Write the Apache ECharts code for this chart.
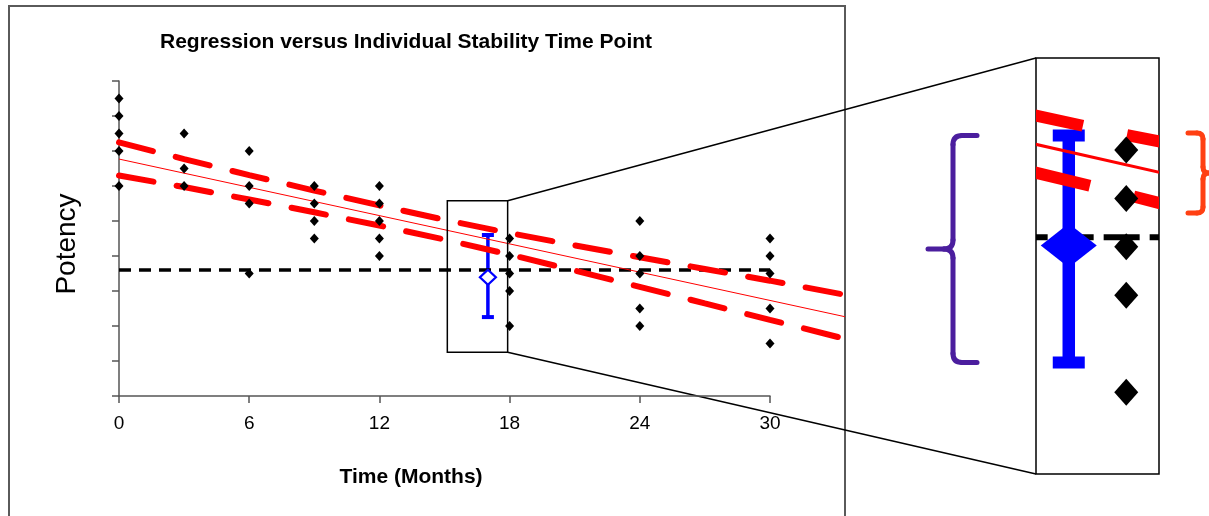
<!DOCTYPE html>
<html>
<head>
<meta charset="utf-8">
<script src="https://cdn.jsdelivr.net/npm/echarts@6/dist/echarts.min.js"></script>
<style>
  html, body { margin: 0; padding: 0; background: #fff; }
  #chart { width: 1209px; height: 516px; }
</style>
</head>
<body>
<div id="chart"></div>
<script>
// stability samples: month + potency, one entry per measurement
const sampleMonths = [0, 0, 0, 0, 0, 3, 3, 3, 6, 6, 6, 6, 9, 9, 9, 9, 12, 12, 12, 12, 12,
  18, 18, 18, 18, 18, 24, 24, 24, 24, 24, 30, 30, 30, 30, 30];
const samplePotency = [107, 106, 105, 104, 102, 105, 103, 102, 104, 102, 101, 97, 102, 101, 100, 99, 102, 101, 100, 99, 98,
  99, 98, 97, 96, 94, 100, 98, 97, 95, 94, 99, 98, 97, 95, 93];
const tickMonths = [0, 6, 12, 18, 24, 30];

// regression and its confidence band
const bandMonths = [0, 3, 6, 9, 12, 15, 18, 21, 24, 27, 30, 33.46];
const upperBand = [104.49, 103.54, 102.62, 101.74, 100.89, 100.07, 99.31, 98.61, 97.93, 97.26, 96.59, 95.78];
const lowerBand = [102.60, 101.94, 101.23, 100.50, 99.74, 98.94, 98.08, 97.17, 96.24, 95.29, 94.35, 93.27];
const regressionMonths = [0, 33.46];
const regressionLine = [103.54, 94.53];

// specification level
const specMonths = [0, 30];
const specLevel = 97.2;

// individual time point: mean, upper, lower
const individualMonth = 17;
const individualPoint = [96.78, 99.2, 94.51];
const insetPoint = [97.03, 99.3, 94.61];

// magnified region
const zoomMonths = [15.13, 17.91];
const zoomPotency = [92.5, 101.16];
const insetMonths = [16.43, 18.57];
const insetPotency = [92.31, 100.9];
const redBraceRange = [97.7, 99.35];

const FONT = '"Liberation Sans", Arial, sans-serif';
const RED = '#ff0000';
const BLUE = '#0000ff';

function pairs(xs, ys) { return xs.map((x, i) => [x, ys[i]]); }

const samples = pairs(sampleMonths, samplePotency);
const insetSamples = samples.filter(d => d[0] >= insetMonths[0] && d[0] <= insetMonths[1]);
const upper = pairs(bandMonths, upperBand);
const lower = pairs(bandMonths, lowerBand);
const regression = pairs(regressionMonths, regressionLine);
const spec = specMonths.map(m => [m, specLevel]);

function errorBar(lw, capW, capH) {
  return function (params, api) {
    const x = api.value(0);
    const top = api.coord([x, api.value(2)]);
    const bot = api.coord([x, api.value(3)]);
    return {
      type: 'group',
      children: [
        { type: 'line', shape: { x1: top[0], y1: top[1], x2: bot[0], y2: bot[1] }, style: { stroke: BLUE, lineWidth: lw } },
        { type: 'rect', shape: { x: top[0] - capW / 2, y: top[1] - capH / 2, width: capW, height: capH }, style: { fill: BLUE } },
        { type: 'rect', shape: { x: bot[0] - capW / 2, y: bot[1] - capH / 2, width: capW, height: capH }, style: { fill: BLUE } }
      ]
    };
  };
}

function lineSeries(data, style, extra) {
  return Object.assign({
    type: 'line', data: data, showSymbol: false, symbol: 'none', silent: true,
    lineStyle: style, animation: false
  }, extra);
}

// polyline inside the inset, hard-clipped to the inset box
function insetPath(points, style, z) {
  return {
    type: 'custom', xAxisIndex: 1, yAxisIndex: 1, z: z, silent: true,
    data: [[insetMonths[0], insetPotency[0]]],
    encode: { x: 0, y: 1 },
    renderItem: function (params, api) {
      const cs = params.coordSys;
      return {
        type: 'polyline',
        shape: { points: points.map(p => api.coord(p)) },
        style: Object.assign({ fill: null }, style),
        clipPath: { type: 'rect', shape: { x: cs.x, y: cs.y, width: cs.width, height: cs.height } }
      };
    }
  };
}

const axisColor = '#555';
const bandDash = [35, 23.5];

const option = {
  animation: false,
  backgroundColor: '#fff',
  grid: [
    { left: 119, top: 81, width: 651, height: 315, outerBoundsMode: 'none' },
    { left: 1036, top: 58, width: 123, height: 416, show: true, borderColor: '#000', borderWidth: 1.5,
      backgroundColor: 'transparent', outerBoundsMode: 'none' },
    // same scale as grid 0, reaching the right edge of the frame
    { left: 119, top: 81, width: 726, height: 315, outerBoundsMode: 'none' }
  ],
  xAxis: [
    {
      gridIndex: 0, type: 'value', min: 0, max: 30, interval: 6,
      axisLine: { show: true, onZero: false, lineStyle: { color: axisColor, width: 1.5 } },
      axisTick: { show: true, length: 7, inside: false, lineStyle: { color: axisColor, width: 1.5 } },
      axisLabel: { show: true, fontSize: 19, color: '#000', fontFamily: FONT, margin: 18,
        customValues: tickMonths },
      splitLine: { show: false }
    },
    { gridIndex: 1, type: 'value', min: insetMonths[0], max: insetMonths[1], show: false, splitLine: { show: false } },
    { gridIndex: 2, type: 'value', min: 0, max: 33.46, show: false, splitLine: { show: false } }
  ],
  yAxis: [
    {
      gridIndex: 0, type: 'value', min: 90, max: 108, interval: 2,
      axisLine: { show: true, onZero: false, lineStyle: { color: axisColor, width: 1.5 } },
      axisTick: { show: true, length: 7, inside: false, lineStyle: { color: axisColor, width: 1.5 } },
      axisLabel: { show: false },
      splitLine: { show: false }
    },
    { gridIndex: 1, type: 'value', min: insetPotency[0], max: insetPotency[1], show: false, splitLine: { show: false } },
    { gridIndex: 2, type: 'value', min: 90, max: 108, show: false, splitLine: { show: false } }
  ],
  series: [
    // ---- main chart ----
    {
      type: 'custom', xAxisIndex: 0, yAxisIndex: 0, z: 2, silent: true,
      data: [[individualMonth].concat(individualPoint)],
      encode: { x: 0, y: 1 },
      renderItem: errorBar(3.5, 12, 4)
    },
    lineSeries(spec, { color: '#000', width: 3.5, type: [12, 8] }, { xAxisIndex: 0, yAxisIndex: 0, z: 3 }),
    {
      type: 'scatter', xAxisIndex: 0, yAxisIndex: 0, z: 4, silent: true,
      data: [[individualMonth, individualPoint[0]]],
      symbol: 'diamond', symbolSize: [16, 15],
      itemStyle: { color: '#fff', borderColor: BLUE, borderWidth: 2.2, opacity: 1 }
    },
    lineSeries(upper, { color: RED, width: 6, type: bandDash, cap: 'round' }, { xAxisIndex: 2, yAxisIndex: 2, z: 5 }),
    lineSeries(lower, { color: RED, width: 6, type: bandDash, cap: 'round' }, { xAxisIndex: 2, yAxisIndex: 2, z: 5 }),
    lineSeries(regression, { color: RED, width: 1 }, { xAxisIndex: 2, yAxisIndex: 2, z: 5 }),
    {
      type: 'scatter', xAxisIndex: 0, yAxisIndex: 0, z: 6, silent: true,
      data: samples, symbol: 'diamond', symbolSize: [9, 10],
      itemStyle: { color: '#000', opacity: 1 }
    },
    {
      type: 'custom', xAxisIndex: 0, yAxisIndex: 0, z: 7, silent: true,
      data: [[zoomMonths[0], zoomPotency[0], zoomMonths[1], zoomPotency[1]]],
      encode: { x: 0, y: 1 },
      renderItem: function (params, api) {
        const a = api.coord([api.value(0), api.value(3)]);
        const b = api.coord([api.value(2), api.value(1)]);
        return { type: 'rect', shape: { x: a[0], y: a[1], width: b[0] - a[0], height: b[1] - a[1] },
          style: { fill: null, stroke: '#000', lineWidth: 1.5 } };
      }
    },
    // ---- magnified inset ----
    {
      type: 'custom', xAxisIndex: 1, yAxisIndex: 1, z: 2, silent: true,
      data: [[individualMonth].concat(insetPoint)],
      encode: { x: 0, y: 1 },
      renderItem: errorBar(12.5, 32, 12)
    },
    insetPath(spec, { stroke: '#000', lineWidth: 6, lineDash: [36, 10], lineDashOffset: 46 }, 3),
    {
      type: 'scatter', xAxisIndex: 1, yAxisIndex: 1, z: 4, silent: true,
      data: [[individualMonth, insetPoint[0]]],
      symbol: 'diamond', symbolSize: [56, 44],
      itemStyle: { color: BLUE, opacity: 1 }
    },
    insetPath(upper.filter(d => d[0] >= 15), { stroke: RED, lineWidth: 12, lineDash: [105, 45], lineDashOffset: 123 }, 5),
    insetPath(lower.filter(d => d[0] >= 15), { stroke: RED, lineWidth: 12, lineDash: [105, 45], lineDashOffset: 115 }, 5),
    insetPath(regression, { stroke: RED, lineWidth: 3 }, 5),
    {
      type: 'scatter', xAxisIndex: 1, yAxisIndex: 1, z: 6, silent: true,
      data: insetSamples, symbol: 'diamond', symbolSize: [24, 27],
      itemStyle: { color: '#000', opacity: 1 }
    }
  ]
};

const chart = echarts.init(document.getElementById('chart'), null, { renderer: 'canvas' });
chart.setOption(option);

// brace built from lines and quadratic curves; hooks point from xLine towards xEnd
function brace(xTip, xLine, xEnd, y0, y1, r, color, id) {
  const s = Math.sign(xEnd - xLine);
  const ym = (y0 + y1) / 2;
  const st = { stroke: color, lineWidth: 5, fill: null, lineCap: 'round' };
  const L = (x1, y1_, x2, y2) => ({ type: 'line', shape: { x1: x1, y1: y1_, x2: x2, y2: y2 }, style: st });
  const Q = (x1, y1_, cx, cy, x2, y2) => ({ type: 'bezierCurve', shape: { x1: x1, y1: y1_, cpx1: cx, cpy1: cy, x2: x2, y2: y2 }, style: st });
  return {
    type: 'group', id: id, children: [
      L(xEnd, y0, xLine + s * r, y0),
      Q(xLine + s * r, y0, xLine, y0, xLine, y0 + r),
      L(xLine, y0 + r, xLine, ym - r),
      Q(xLine, ym - r, xLine, ym, xLine - s * r, ym),
      L(xLine - s * r, ym, xTip, ym),
      Q(xLine - s * r, ym, xLine, ym, xLine, ym + r),
      L(xLine, ym + r, xLine, y1 - r),
      Q(xLine, y1 - r, xLine, y1, xLine + s * r, y1),
      L(xLine + s * r, y1, xEnd, y1)
    ]
  };
}

const px = (g, p) => chart.convertToPixel({ gridIndex: g }, p);
const boxTop = px(0, [zoomMonths[1], zoomPotency[1]]);
const boxBot = px(0, [zoomMonths[1], zoomPotency[0]]);
const inTop = px(1, [insetMonths[0], insetPotency[1]]);
const inBot = px(1, [insetMonths[0], insetPotency[0]]);
const blueTop = px(1, [individualMonth, insetPoint[1]])[1];
const blueBot = px(1, [individualMonth, insetPoint[2]])[1];
const redTop = px(1, [individualMonth, redBraceRange[1]])[1];
const redBot = px(1, [individualMonth, redBraceRange[0]])[1];

chart.setOption({
  graphic: [
    { type: 'rect', id: 'frame', shape: { x: 9, y: 6, width: 836, height: 600 },
      style: { fill: null, stroke: '#5a5a5a', lineWidth: 2 }, z: -1, silent: true },
    { type: 'text', id: 'title', x: 406, y: 42.5, silent: true,
      style: { text: 'Regression versus Individual Stability Time Point', font: 'bold 21px ' + FONT, fill: '#000',
        align: 'center', verticalAlign: 'middle', textAlign: 'center', textVerticalAlign: 'middle' } },
    { type: 'text', id: 'xname', x: 411, y: 477, silent: true,
      style: { text: 'Time (Months)', font: 'bold 21px ' + FONT, fill: '#000',
        align: 'center', verticalAlign: 'middle', textAlign: 'center', textVerticalAlign: 'middle' } },
    { type: 'text', id: 'yname', x: 67, y: 244, rotation: Math.PI / 2, silent: true,
      style: { text: 'Potency', font: '28px ' + FONT, fill: '#000',
        align: 'center', verticalAlign: 'middle', textAlign: 'center', textVerticalAlign: 'middle' } },
    { type: 'line', id: 'connTop', silent: true, shape: { x1: boxTop[0], y1: boxTop[1], x2: inTop[0], y2: inTop[1] },
      style: { stroke: '#000', lineWidth: 1.5 } },
    { type: 'line', id: 'connBot', silent: true, shape: { x1: boxBot[0], y1: boxBot[1], x2: inBot[0], y2: inBot[1] },
      style: { stroke: '#000', lineWidth: 1.5 } },
    brace(928, 953, 977, blueTop, blueBot, 9, '#4b1e9e', 'braceBlue'),
    brace(1209, 1203, 1188, redTop, redBot, 6, '#ff4013', 'braceRed')
  ]
});
</script>
</body>
</html>
